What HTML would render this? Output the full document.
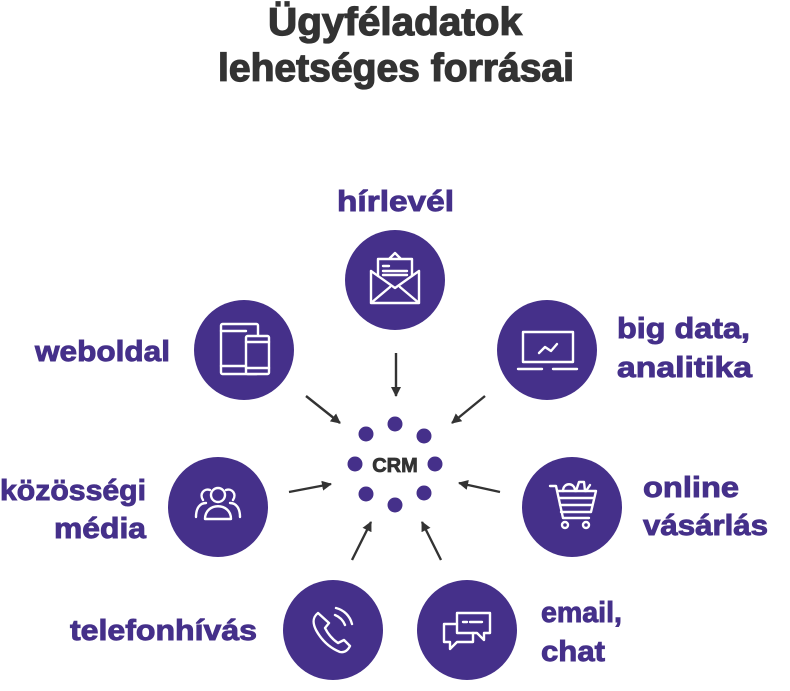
<!DOCTYPE html>
<html><head><meta charset="utf-8"><style>
html,body{margin:0;padding:0;background:#fff;width:790px;height:691px;overflow:hidden}
svg{display:block}
.t{font-family:"Liberation Sans",sans-serif;font-weight:bold;fill:#333;stroke:#333;stroke-width:1.3;font-size:39px}
.l{font-family:"Liberation Sans",sans-serif;font-weight:bold;fill:#45308a;stroke:#45308a;stroke-width:0.9;font-size:29px}
.i{fill:none;stroke:#fff;stroke-width:2.4;stroke-linejoin:round;stroke-linecap:round}
</style></head><body>
<svg width="790" height="691" viewBox="0 0 790 691" xmlns="http://www.w3.org/2000/svg">
<defs><marker id="a" markerWidth="10" markerHeight="10" refX="9" refY="5" orient="auto" markerUnits="userSpaceOnUse"><path d="M0,0 L10,5 L0,10 Z" fill="#333"/></marker></defs>
<text class="t" x="268" y="35" textLength="254" lengthAdjust="spacingAndGlyphs">Ügyféladatok</text>
<text class="t" x="218" y="81" textLength="356" lengthAdjust="spacingAndGlyphs">lehetséges forrásai</text>

<text class="l" x="337" y="211" textLength="117" lengthAdjust="spacingAndGlyphs">hírlevél</text>
<text class="l" x="35" y="361" textLength="135" lengthAdjust="spacingAndGlyphs">weboldal</text>
<text class="l" x="617" y="338" textLength="133" lengthAdjust="spacingAndGlyphs">big data,</text>
<text class="l" x="617" y="377" textLength="135" lengthAdjust="spacingAndGlyphs">analitika</text>
<text class="l" x="0" y="500" textLength="146" lengthAdjust="spacingAndGlyphs">közösségi</text>
<text class="l" x="54" y="538" textLength="92" lengthAdjust="spacingAndGlyphs">média</text>
<text class="l" x="643" y="497" textLength="96" lengthAdjust="spacingAndGlyphs">online</text>
<text class="l" x="643" y="535" textLength="125" lengthAdjust="spacingAndGlyphs">vásárlás</text>
<text class="l" x="70" y="640" textLength="187" lengthAdjust="spacingAndGlyphs">telefonhívás</text>
<text class="l" x="541" y="622" textLength="81" lengthAdjust="spacingAndGlyphs">email,</text>
<text class="l" x="541" y="661" textLength="64" lengthAdjust="spacingAndGlyphs">chat</text>

<g fill="#45308a">
<circle cx="395" cy="280" r="50"/><circle cx="244" cy="350" r="50"/><circle cx="547" cy="350" r="50"/>
<circle cx="218" cy="507" r="50"/><circle cx="572" cy="507" r="50"/>
<circle cx="333" cy="630" r="50"/><circle cx="467" cy="630" r="50"/>
<circle cx="395" cy="424" r="7.5"/><circle cx="366" cy="434" r="7.5"/><circle cx="424" cy="436" r="7.5"/>
<circle cx="355" cy="464" r="7.5"/><circle cx="435" cy="464" r="7.5"/>
<circle cx="366" cy="494" r="7.5"/><circle cx="424" cy="493" r="7.5"/><circle cx="395" cy="505" r="7.5"/>
</g>
<text x="395" y="472" text-anchor="middle" font-family="Liberation Sans,sans-serif" font-weight="bold" font-size="20" fill="#333" stroke="#333" stroke-width="0.8">CRM</text>

<g stroke="#333" stroke-width="2.4" marker-end="url(#a)">
<line x1="396" y1="353" x2="396" y2="396"/>
<line x1="306" y1="396" x2="340" y2="423"/>
<line x1="485" y1="396" x2="452" y2="423"/>
<line x1="289" y1="492" x2="331" y2="484"/>
<line x1="500" y1="492" x2="459" y2="483"/>
<line x1="352" y1="560" x2="371" y2="522"/>
<line x1="441" y1="560" x2="422" y2="522"/>
</g>

<g class="i">
<path d="M371,271 L371,303 L419,303 L419,271 M371,271 L395,288 L419,271 M371,303 L390,287 M419,303 L400,287"/>
<path d="M378,276 L378,259 L412,259 L412,276 M389,259 L395,253 L401,259"/>
<line x1="383" y1="266" x2="389" y2="266"/><line x1="383" y1="271" x2="407" y2="271"/><line x1="383" y1="275" x2="407" y2="275"/>
<rect x="221" y="324" width="37" height="50" rx="1.5"/><rect x="246" y="336" width="23" height="38" rx="1.5" fill="#45308a"/>
<line x1="221" y1="331" x2="246" y2="331"/><line x1="221" y1="366" x2="246" y2="366"/>
<line x1="246" y1="342" x2="269" y2="342"/><line x1="246" y1="368" x2="269" y2="368"/>
<rect x="523" y="332" width="50" height="30"/><line x1="518" y1="369" x2="542" y2="369"/><line x1="553" y1="369" x2="577" y2="369"/>
<path d="M539,353 L545,347 L551,351 L557,344"/>
<circle cx="218" cy="495" r="7"/><path d="M205,519 C205,502 231,502 231,519 Z"/>
<path d="M210,490 C204,488 199,494 203,500 M196,517 C196,508 200,503 206,503"/>
<path d="M226,490 C232,488 237,494 233,500 M240,517 C240,508 236,503 230,503"/>
<path d="M550,486 L556,486 L563,518 L589,518 M557,491 L596,491 L591,512 L561,512"/>
<line x1="559" y1="498" x2="594" y2="498"/><line x1="560" y1="505" x2="592" y2="505"/>
<circle cx="565" cy="525" r="3"/><circle cx="586" cy="525" r="3"/>
<path d="M563,491 C563,482 575,482 575,491 M576,491 L579,482 L584,482 L585,491 M586,491 L590,485"/>
<path d="M318,613 C313,617 312,622 316,630 C322,641 330,648 340,652 C345,653 348,650 350,646 L344,640 L338,643 C332,639 328,634 325,628 L329,623 Z"/>
<path d="M335,615 C340,617 343,620 345,625 M336,608 C344,610 350,616 352,624"/>
<path d="M457,613 L490,613 L490,633 L484,633 L484,640 L477,633 L457,633 Z"/>
<path d="M457,624 L444,624 L444,642 L450,642 L450,649 L457,642 L473,642 L473,633"/>
<line x1="463" y1="622" x2="467" y2="622"/><line x1="470" y1="622" x2="482" y2="622"/>
</g>
</svg>
</body></html>
